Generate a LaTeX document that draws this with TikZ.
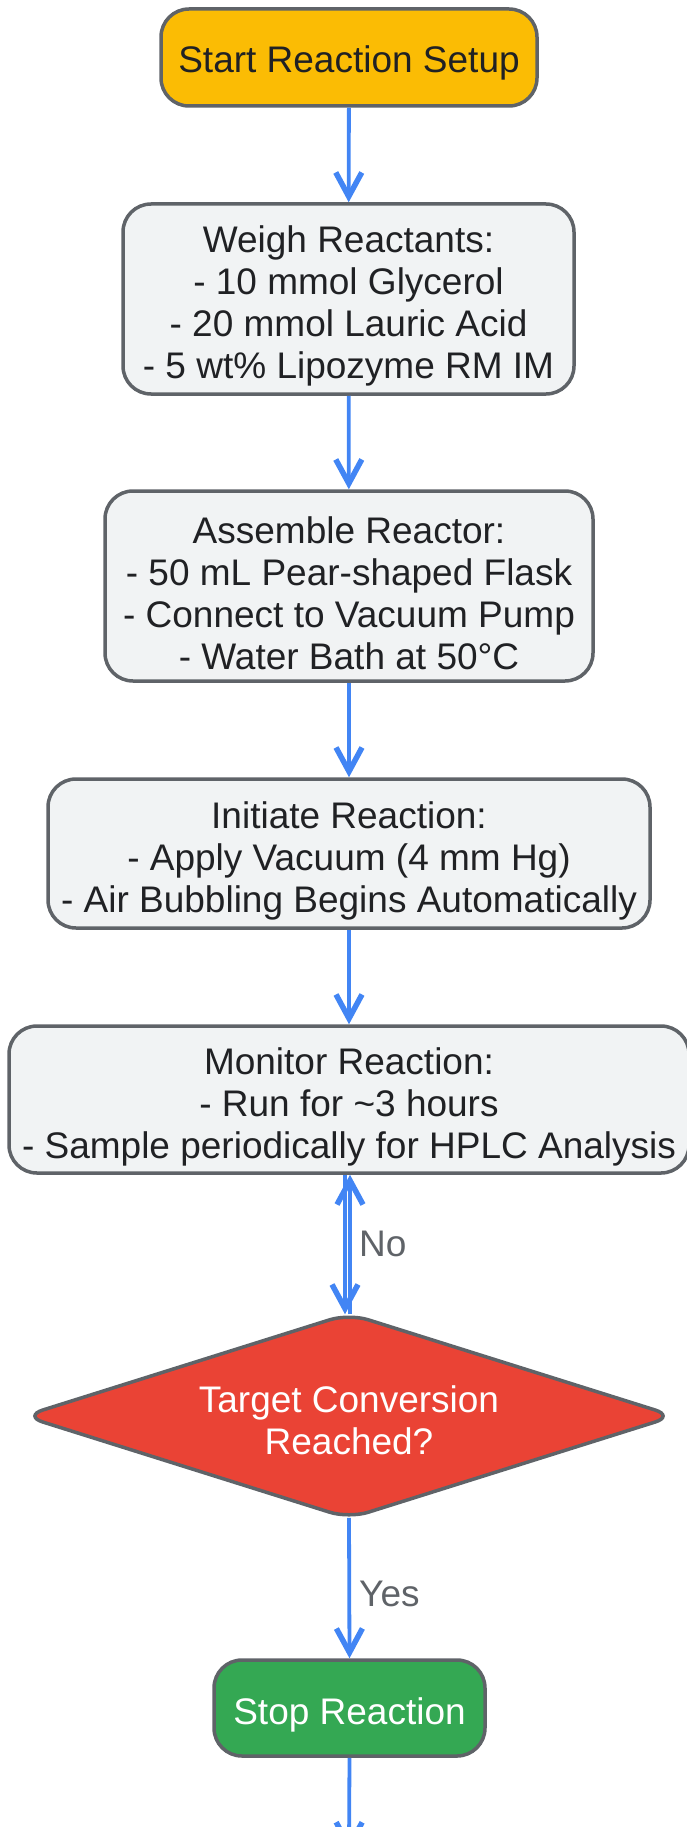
\documentclass[tikz,border=0pt]{standalone}
\usepackage{fontspec}
\setmainfont{Liberation Sans}
\usetikzlibrary{arrows.meta,shapes.geometric}
\definecolor{startc}{HTML}{FBBC04}
\definecolor{procc}{HTML}{F1F3F4}
\definecolor{decc}{HTML}{EA4335}
\definecolor{stopc}{HTML}{34A853}
\definecolor{edgec}{HTML}{5F6368}
\definecolor{arrowc}{HTML}{4285F4}
\definecolor{txtc}{HTML}{202124}
\newcommand\tupa{\rule{0pt}{41pt}}
\newcommand\tupb{\rule{0pt}{38pt}}
\newcommand\tupc{\rule{0pt}{36pt}}
\begin{document}
\begin{tikzpicture}[x=1pt,y=1pt,
  box/.style={draw=edgec, line width=3.5pt, rounded corners=28pt, align=center,
    font=\fontsize{37}{42}\selectfont, text=txtc, inner sep=0pt},
  proc/.style={box, fill=procc},
  flow/.style={draw=arrowc, line width=3.8pt, -{Straight Barb[length=24pt,width=26pt,line width=5.5pt]}},
  lbl/.style={font=\fontsize{37}{42}\selectfont, text=edgec, inner sep=0pt}
]
\useasboundingbox (0,0) rectangle (686,-1827);
\node[box, fill=startc, minimum width=376pt, minimum height=97pt] (start) at (349,-57.5) {\tupb Start Reaction Setup};
\node[proc, minimum width=451pt, minimum height=190pt] (weigh) at (348.5,-299) {\tupa Weigh Reactants:\\- 10 mmol Glycerol\\- 20 mmol Lauric Acid\\- 5 wt\% Lipozyme RM IM};
\node[proc, minimum width=488pt, minimum height=190pt] (assemble) at (349,-586) {\tupa Assemble Reactor:\\- 50 mL Pear-shaped Flask\\- Connect to Vacuum Pump\\- Water Bath at 50°C};
\node[proc, minimum width=602pt, minimum height=149pt] (initiate) at (349,-853.5) {\tupa Initiate Reaction:\\- Apply Vacuum (4 mm Hg)\\- Air Bubbling Begins Automatically};
\node[proc, minimum width=680pt, minimum height=147pt] (monitor) at (349,-1099.5) {\tupa Monitor Reaction:\\- Run for \textasciitilde3 hours\\- Sample periodically for HPLC Analysis};
\node[box, shape=diamond, shape aspect=3.175, fill=decc, text=white, rounded corners=20pt, minimum width=652pt, minimum height=206pt] (dec) at (349,-1416) {\tupc Target Conversion\\Reached?};
\node[box, fill=stopc, text=white, minimum width=271pt, minimum height=96pt] (stop) at (349.5,-1708) {\tupa Stop Reaction};
\coordinate (end) at (349,-1852);

\draw[flow] (start) -- (weigh);
\draw[flow] (weigh) -- (assemble);
\draw[flow] (assemble) -- (initiate);
\draw[flow] (initiate) -- (monitor);
\draw[flow] ([xshift=-4pt]monitor.south) -- ([xshift=-4pt,yshift=-3pt]dec.north);
\draw[flow] ([xshift=1pt,yshift=-3pt]dec.north) -- ([xshift=1pt]monitor.south);
\node[lbl, anchor=west] (nolbl) at (359,-1244) {No};
\draw[flow] ([yshift=3pt]dec.south) -- (stop.north);
\node[lbl, anchor=west] (yeslbl) at (359,-1594) {Yes};
\draw[flow] (stop.south) -- (end);
\end{tikzpicture}
\end{document}
